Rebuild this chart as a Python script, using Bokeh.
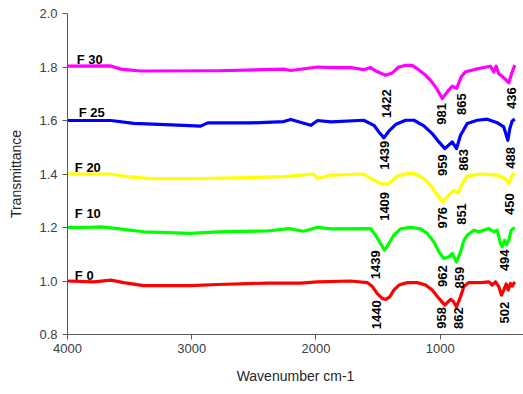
from bokeh.plotting import figure
from bokeh.models import Range1d, FixedTicker, PrintfTickFormatter, ColumnDataSource
from bokeh.core.properties import value
from bokeh.embed import file_html
from bokeh.resources import INLINE
import math

# ---- data ----
f0_wn = [4000, 3788, 3651, 3547, 3386, 3007, 2791, 2389, 2123, 1986, 1720, 1587, 1546, 1506, 1466, 1439, 1405, 1373,
         1332, 1265, 1184, 1117, 1064, 1010, 962, 916, 898, 868, 836, 809, 769, 675, 608, 581, 554, 528, 506, 488, 468,
         452, 434, 420, 399]
f0_t = [1.000, 0.997, 1.003, 0.994, 0.983, 0.983, 0.987, 0.992, 0.992, 0.997, 1.000, 0.994, 0.979, 0.953, 0.935, 0.931,
        0.941, 0.966, 0.985, 0.994, 0.994, 0.985, 0.966, 0.935, 0.910, 0.931, 0.926, 0.903, 0.941, 0.979, 0.994, 0.994,
        0.997, 0.985, 0.997, 0.979, 0.947, 0.966, 0.989, 0.966, 0.991, 0.981, 0.997]

f10_wn = [4000, 3867, 3732, 3596, 3386, 3007, 2791, 2389, 2219, 2099, 1986, 1880, 1560, 1520, 1480, 1447, 1413, 1373,
          1319, 1238, 1158, 1104, 1051, 1010, 970, 930, 903, 868, 836, 809, 782, 729, 689, 608, 568, 541, 514, 500,
          482, 466, 447, 428, 399]
f10_t = [1.200, 1.200, 1.202, 1.196, 1.184, 1.178, 1.184, 1.187, 1.196, 1.186, 1.201, 1.195, 1.196, 1.171, 1.140,
         1.115, 1.140, 1.171, 1.195, 1.201, 1.195, 1.178, 1.147, 1.109, 1.084, 1.090, 1.103, 1.071, 1.109, 1.152, 1.171,
         1.190, 1.184, 1.196, 1.184, 1.190, 1.140, 1.128, 1.152, 1.136, 1.152, 1.190, 1.200]

f20_wn = [4000, 3651, 3517, 3330, 2928, 2525, 2260, 2018, 1986, 1880, 1616, 1533, 1480, 1426, 1399, 1345, 1265, 1211,
          1131, 1077, 1023, 975, 930, 890, 855, 822, 782, 675, 541, 474, 447, 420, 399]
f20_t = [1.400, 1.400, 1.390, 1.383, 1.383, 1.387, 1.390, 1.400, 1.383, 1.396, 1.400, 1.377, 1.364, 1.362, 1.370,
         1.392, 1.402, 1.402, 1.383, 1.358, 1.321, 1.296, 1.321, 1.339, 1.329, 1.364, 1.392, 1.400, 1.396, 1.383, 1.364,
         1.396, 1.404]

f25_wn = [4000, 3651, 3466, 3064, 2928, 2871, 2525, 2260, 2203, 2042, 1986, 1880, 1616, 1533, 1493, 1453, 1413, 1359,
          1278, 1211, 1131, 1064, 1010, 962, 903, 868, 836, 782, 701, 621, 541, 488, 455, 439, 420, 399]
f25_t = [1.600, 1.600, 1.589, 1.582, 1.579, 1.591, 1.591, 1.596, 1.604, 1.582, 1.600, 1.595, 1.601, 1.582, 1.557,
         1.535, 1.560, 1.585, 1.601, 1.601, 1.580, 1.551, 1.520, 1.495, 1.520, 1.495, 1.545, 1.589, 1.601, 1.605, 1.592,
         1.576, 1.526, 1.570, 1.598, 1.605]

f30_wn = [4000, 3651, 3571, 3410, 2790, 2260, 2203, 1987, 1880, 1721, 1616, 1560, 1506, 1439, 1385, 1334, 1278, 1225,
          1174, 1117, 1077, 1029, 983, 943, 903, 868, 830, 796, 729, 649, 595, 568, 549, 529, 488, 447, 420, 399]
f30_t = [1.803, 1.804, 1.792, 1.785, 1.786, 1.792, 1.787, 1.800, 1.798, 1.798, 1.790, 1.798, 1.782, 1.769, 1.778,
         1.800, 1.806, 1.806, 1.790, 1.769, 1.750, 1.720, 1.682, 1.707, 1.728, 1.720, 1.763, 1.782, 1.790, 1.798, 1.803,
         1.782, 1.803, 1.776, 1.760, 1.741, 1.782, 1.807]

series_names = ["F 0", "F 10", "F 20", "F 25", "F 30"]
series_colors = ["#FF0000", "#00FF00", "#FFFF00", "#0000FF", "#FF00FF"]
name_x = [3941, 3941, 3941, 3909, 3925]
name_y = [1.022, 1.253, 1.425, 1.631, 1.829]

peak_text = ["1440", "958", "862", "502",
             "1439", "962", "859", "494",
             "1409", "976", "851", "450",
             "1439", "959", "863", "488",
             "1422", "981", "865", "436"]
peak_x = [1516, 989, 856, 478,
          1520, 981, 844, 482,
          1447, 981, 828, 442,
          1451, 983, 812, 434,
          1435, 993, 828, 426]
peak_y = [0.928, 0.903, 0.902, 0.922,
          1.115, 1.059, 1.053, 1.118,
          1.333, 1.277, 1.291, 1.328,
          1.524, 1.474, 1.493, 1.501,
          1.717, 1.665, 1.702, 1.724]

x_ticks = [4000, 3000, 2000, 1000]
y_ticks = [0.8, 1.0, 1.2, 1.4, 1.6, 1.8, 2.0]

# ---- figure ----
p = figure(width=523, height=394, output_backend="svg", toolbar_location=None,
           x_range=Range1d(4000, 329), y_range=Range1d(0.8, 2.0))
p.min_border_left = 67
p.min_border_right = 0
p.min_border_top = 13
p.min_border_bottom = 60
p.outline_line_color = None
p.background_fill_color = "white"
p.border_fill_color = "white"
p.xgrid.grid_line_color = None
p.ygrid.grid_line_color = None

all_wn = [f0_wn, f10_wn, f20_wn, f25_wn, f30_wn]
all_t = [f0_t, f10_t, f20_t, f25_t, f30_t]
for wn, t, c in zip(all_wn, all_t, series_colors):
    p.line(wn, t, line_color=c, line_width=3.2, line_join="round")

FONT = "Liberation Sans"
p.text(x=name_x, y=name_y, text=series_names, text_font=value(FONT), text_font_size="13px",
       text_font_style="bold", text_color="black", text_align="left", text_baseline="alphabetic")

p.text(x=peak_x, y=peak_y, text=peak_text, angle=math.pi / 2, text_font=value(FONT),
       text_font_size="13px", text_font_style="bold", text_color="black",
       text_align="right", text_baseline="middle")

for ax in (p.xaxis[0], p.yaxis[0]):
    ax.axis_line_color = "#595959"
    ax.axis_line_width = 1
    ax.major_tick_line_color = "#595959"
    ax.major_tick_in = 0
    ax.major_tick_out = 5
    ax.minor_tick_line_color = None
    ax.major_label_text_font = FONT
    ax.major_label_text_font_size = "13px"
    ax.major_label_text_color = "#404040"
    ax.axis_label_text_font = FONT
    ax.axis_label_text_font_size = "14px"
    ax.axis_label_text_font_style = "normal"
    ax.axis_label_text_color = "#262626"

p.xaxis.ticker = FixedTicker(ticks=x_ticks)
p.yaxis.ticker = FixedTicker(ticks=y_ticks)
p.yaxis.formatter = PrintfTickFormatter(format="%.1f")
p.xaxis.axis_label = "Wavenumber cm-1"
p.yaxis.axis_label = "Transmittance"
p.xaxis.major_label_standoff = 4
p.yaxis.major_label_standoff = 5
p.xaxis.axis_label_standoff = 12
p.yaxis.axis_label_standoff = 12

open("out.html", "w").write(file_html(p, INLINE))
